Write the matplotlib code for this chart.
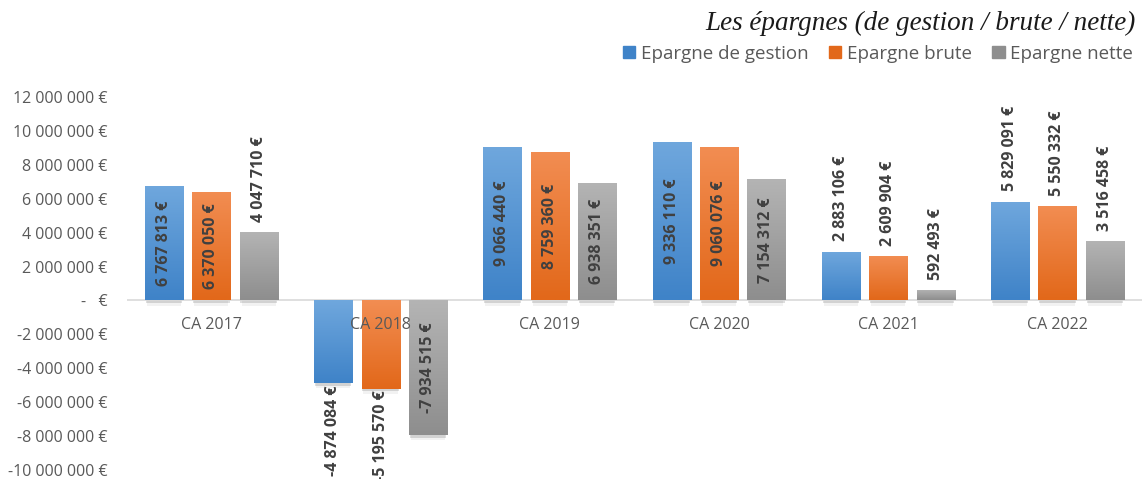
import numpy as np
import matplotlib.pyplot as plt
from matplotlib.colors import LinearSegmentedColormap

categories = ["CA 2017", "CA 2018", "CA 2019", "CA 2020", "CA 2021", "CA 2022"]
series_names = ["Epargne de gestion", "Epargne brute", "Epargne nette"]
epargne_gestion = [6767813, -4874084, 9066440, 9336110, 2883106, 5829091]
epargne_brute = [6370050, -5195570, 8759360, 9060076, 2609904, 5550332]
epargne_nette = [4047710, -7934515, 6938351, 7154312, 592493, 3516458]
# label placement: True = centred inside the bar
inside = [
    [True, False, True, True, False, False],
    [True, False, True, True, False, False],
    [False, True, True, True, False, False],
]
yticks = list(range(-10000000, 12000001, 2000000))

# (top colour, bottom colour) for the gradient fill
gradients = [("#6fa7dd", "#3f83c8"), ("#f28d52", "#e2681a"), ("#b4b4b4", "#8e8e8e")]
text_grey = "#595959"
label_grey = "#404040"


def euro(v):
    if v == 0:
        return "-   €"
    return f"{v:,.0f}".replace(",", " ") + " €"


plt.rcParams["font.family"] = ["Open Sans", "DejaVu Sans"]

fig = plt.figure(figsize=(11.42, 4.79), dpi=100)
ax = fig.add_axes([0.111, 0.0188, 0.889, 0.7787])

x = np.arange(len(categories))
width = 0.225
step = 0.28
all_series = [epargne_gestion, epargne_brute, epargne_nette]

for i, vals in enumerate(all_series):
    offs = (i - 1) * step
    top_c, bot_c = gradients[i]
    cmap = LinearSegmentedColormap.from_list(f"g{i}", [bot_c, top_c])
    bars = ax.bar(x + offs, vals, width, color=top_c, zorder=2, label=series_names[i])
    for j, b in enumerate(bars):
        bx, by = b.get_x(), b.get_y()
        bw, bh = b.get_width(), b.get_height()
        y0, y1 = min(by, by + bh), max(by, by + bh)
        # soft shadow below the bar
        ax.bar(bx + bw / 2, -170000, bw * 0.96, bottom=y0, color="#000000", alpha=0.13,
               zorder=1, linewidth=0)
        ax.bar(bx + bw / 2, -300000, bw * 0.9, bottom=y0, color="#000000", alpha=0.05,
               zorder=1, linewidth=0)
        grad = np.linspace(0, 1, 64).reshape(-1, 1)
        im = ax.imshow(grad, extent=[bx, bx + bw, y0, y1], origin="lower",
                       cmap=cmap, aspect="auto", zorder=2.5)
        im.set_clip_path(b)

        v = vals[j]
        if inside[i][j]:
            ax.text(bx + bw / 2, v / 2, euro(v), rotation=90, ha="center",
                    va="center", fontsize=11.5, fontweight="bold", color=label_grey,
                    zorder=4)
        else:
            pad = 600000 if v > 0 else 120000
            ax.text(bx + bw / 2, v + (pad if v > 0 else -pad), euro(v), rotation=90,
                    ha="center", va="bottom" if v > 0 else "top", fontsize=11.5,
                    fontweight="bold", color=label_grey, zorder=4, clip_on=False)

ax.axhline(0, color="#d9d9d9", linewidth=1.2, zorder=1.5)
ax.set_xlim(-0.5, len(categories) - 0.5)
ax.set_ylim(-10000000, 12000000)
ax.set_yticks(yticks)
ax.set_yticklabels([euro(v) for v in yticks])
ax.tick_params(axis="y", length=0, labelsize=11.5, labelcolor=text_grey, pad=14)
ax.set_xticks([])
for xi, c in zip(x, categories):
    ax.text(xi, -1450000, c, ha="center", va="center", fontsize=11.5,
            color=text_grey, zorder=3)
for s in ax.spines.values():
    s.set_visible(False)

fig.text(0.994, 0.952, "Les épargnes (de gestion / brute / nette)", ha="right",
         va="center", fontsize=19.5, style="italic", family="Liberation Serif",
         color="#1a1a1a")

handles = [plt.Rectangle((0, 0), 1, 1, color=gradients[i][1]) for i in range(3)]
fig.legend(handles, series_names, loc="center right", bbox_to_anchor=(1.007, 0.888),
           ncol=3, frameon=False, fontsize=13.5, labelcolor=text_grey,
           handlelength=0.65, handleheight=0.65, handletextpad=0.3, columnspacing=1.1)

fig.savefig("out.png", dpi=100)
